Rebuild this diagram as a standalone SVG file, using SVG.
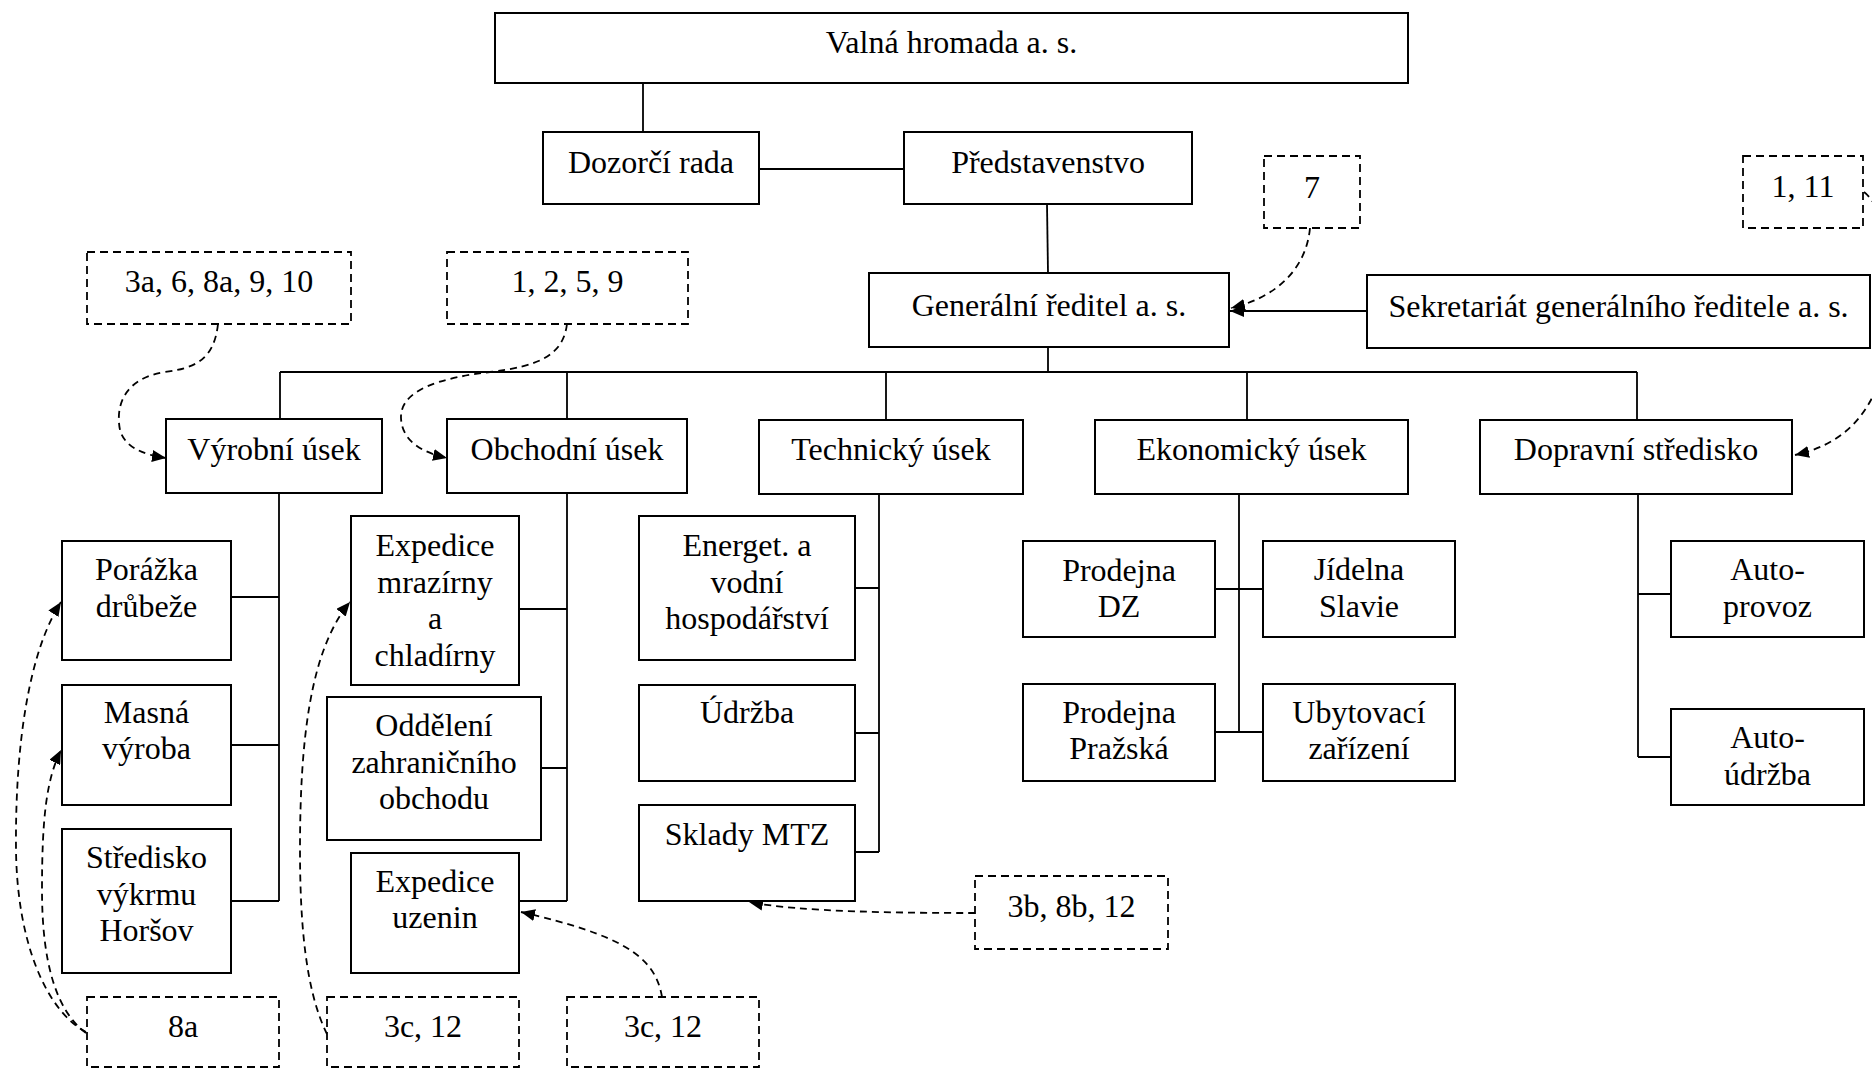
<svg xmlns="http://www.w3.org/2000/svg" width="1872" height="1069" viewBox="0 0 1872 1069">
  <style>
    .box { fill: #ffffff; stroke: #000000; stroke-width: 2; }
    .note { fill: #ffffff; stroke: #000000; stroke-width: 1.8; stroke-dasharray: 8 5; }
    .lbl { font-family: "Liberation Serif", "Times New Roman", serif; font-size: 32px; fill: #000000; text-anchor: middle; }
    .wire { fill: none; stroke: #000000; stroke-width: 1.8; }
    .ref { fill: none; stroke: #000000; stroke-width: 1.8; stroke-dasharray: 7 5; }
  </style>
  <defs>
    <marker id="head" viewBox="0 0 14 12" markerWidth="14" markerHeight="12" refX="14" refY="6" orient="auto" markerUnits="userSpaceOnUse">
      <path d="M0,0 L14,6 L0,12 Z" fill="#000000"/>
    </marker>
  </defs>

  <!-- connectors -->
  <g id="connectors">
    <path class="wire" d="M643,83 V132"/>
    <path class="wire" d="M759,169 H904"/>
    <path class="wire" d="M1047,204 L1048,273"/>
    <path class="wire" d="M1048,347 V372"/>
    <path class="wire" d="M280,372 H1637"/>
    <path class="wire" d="M280,372 V419 M567,372 V419 M886,372 V420 M1247,372 V420 M1637,372 V420"/>
    <!-- Výrobní úsek -->
    <path class="wire" d="M279,493 V901 M231,597 H279 M231,745 H279 M231,901 H279"/>
    <!-- Obchodní úsek -->
    <path class="wire" d="M567,493 V901 M519,609 H567 M541,768 H567 M519,901 H567"/>
    <!-- Technický úsek -->
    <path class="wire" d="M879,494 V852 M855,588 H879 M855,733 H879 M855,852 H879"/>
    <!-- Ekonomický úsek -->
    <path class="wire" d="M1239,494 V732 M1215,589 H1263 M1215,732 H1263"/>
    <!-- Dopravní středisko -->
    <path class="wire" d="M1638,494 V757 M1638,594 H1671 M1638,757 H1671"/>
    <!-- secretariat to director -->
    <path class="wire" d="M1367,311 H1230" marker-end="url(#head)"/>

    <!-- dashed references -->
    <path class="ref" d="M1310,228 C1306,270 1275,298 1231,308" marker-end="url(#head)"/>
    <path class="ref" d="M1864,192 C1895,215 1900,330 1880,380 C1865,420 1840,445 1795,455" marker-end="url(#head)"/>
    <path class="ref" d="M218,324 C214,360 195,368 165,372 C125,378 115,405 120,430 C125,448 145,455 166,458" marker-end="url(#head)"/>
    <path class="ref" d="M567,324 C563,355 540,366 490,372 C440,378 400,390 401,418 C402,440 420,452 447,458" marker-end="url(#head)"/>
    <path class="ref" d="M86,1032 C45,1010 17,940 16,850 C15,740 30,650 61,602" marker-end="url(#head)"/>
    <path class="ref" d="M86,1033 C55,1010 42,960 42,890 C42,820 46,780 61,750" marker-end="url(#head)"/>
    <path class="ref" d="M327,1034 C305,990 300,920 300,850 C300,740 310,650 350,602" marker-end="url(#head)"/>
    <path class="ref" d="M662,997 C655,955 620,935 521,912" marker-end="url(#head)"/>
    <path class="ref" d="M975,913 C900,913 800,912 749,902" marker-end="url(#head)"/>
  </g>

  <!-- top management -->
  <g id="valna"><rect class="box" x="495" y="13" width="913" height="70"/><text class="lbl" x="951.5" y="53">Valná hromada a. s.</text></g>
  <g id="dozorci"><rect class="box" x="543" y="132" width="216" height="72"/><text class="lbl" x="651" y="173">Dozorčí rada</text></g>
  <g id="predstavenstvo"><rect class="box" x="904" y="132" width="288" height="72"/><text class="lbl" x="1048" y="173">Představenstvo</text></g>
  <g id="generalni"><rect class="box" x="869" y="273" width="360" height="74"/><text class="lbl" x="1049" y="316">Generální ředitel a. s.</text></g>
  <g id="sekretariat"><rect class="box" x="1367" y="275" width="503" height="73"/><text class="lbl" x="1618.5" y="317">Sekretariát generálního ředitele a. s.</text></g>

  <!-- reference notes -->
  <g id="note-7"><rect class="note" x="1264" y="156" width="96" height="72"/><text class="lbl" x="1312" y="198">7</text></g>
  <g id="note-1-11"><rect class="note" x="1743" y="156" width="120" height="72"/><text class="lbl" x="1803" y="197">1, 11</text></g>
  <g id="note-3a"><rect class="note" x="87" y="252" width="264" height="72"/><text class="lbl" x="219" y="292">3a, 6, 8a, 9, 10</text></g>
  <g id="note-1-2-5-9"><rect class="note" x="447" y="252" width="241" height="72"/><text class="lbl" x="567.5" y="292">1, 2, 5, 9</text></g>
  <g id="note-8a"><rect class="note" x="87" y="997" width="192" height="70"/><text class="lbl" x="183" y="1037">8a</text></g>
  <g id="note-3c-a"><rect class="note" x="327" y="997" width="192" height="70"/><text class="lbl" x="423" y="1037">3c, 12</text></g>
  <g id="note-3c-b"><rect class="note" x="567" y="997" width="192" height="70"/><text class="lbl" x="663" y="1037">3c, 12</text></g>
  <g id="note-3b"><rect class="note" x="975" y="876" width="193" height="73"/><text class="lbl" x="1071.5" y="917">3b, 8b, 12</text></g>

  <!-- divisions -->
  <g id="vyrobni"><rect class="box" x="166" y="419" width="216" height="74"/><text class="lbl" x="274" y="460">Výrobní úsek</text></g>
  <g id="obchodni"><rect class="box" x="447" y="419" width="240" height="74"/><text class="lbl" x="567" y="460">Obchodní úsek</text></g>
  <g id="technicky"><rect class="box" x="759" y="420" width="264" height="74"/><text class="lbl" x="891" y="460">Technický úsek</text></g>
  <g id="ekonomicky"><rect class="box" x="1095" y="420" width="313" height="74"/><text class="lbl" x="1251.5" y="460">Ekonomický úsek</text></g>
  <g id="dopravni"><rect class="box" x="1480" y="420" width="312" height="74"/><text class="lbl" x="1636" y="460">Dopravní středisko</text></g>

  <!-- production units -->
  <g id="porazka"><rect class="box" x="62" y="541" width="169" height="119"/><text class="lbl" x="146.5" y="580">Porážka</text><text class="lbl" x="146.5" y="617">drůbeže</text></g>
  <g id="masna"><rect class="box" x="62" y="685" width="169" height="120"/><text class="lbl" x="146.5" y="723">Masná</text><text class="lbl" x="146.5" y="759">výroba</text></g>
  <g id="stredisko"><rect class="box" x="62" y="829" width="169" height="144"/><text class="lbl" x="146.5" y="868">Středisko</text><text class="lbl" x="146.5" y="905">výkrmu</text><text class="lbl" x="146.5" y="941">Horšov</text></g>

  <!-- sales units -->
  <g id="exp-mrazirny"><rect class="box" x="351" y="516" width="168" height="169"/><text class="lbl" x="435" y="556">Expedice</text><text class="lbl" x="435" y="592.5">mrazírny</text><text class="lbl" x="435" y="629">a</text><text class="lbl" x="435" y="665.5">chladírny</text></g>
  <g id="oddeleni"><rect class="box" x="327" y="697" width="214" height="143"/><text class="lbl" x="434" y="736">Oddělení</text><text class="lbl" x="434" y="773">zahraničního</text><text class="lbl" x="434" y="809">obchodu</text></g>
  <g id="exp-uzenin"><rect class="box" x="351" y="853" width="168" height="120"/><text class="lbl" x="435" y="892">Expedice</text><text class="lbl" x="435" y="928">uzenin</text></g>

  <!-- technical units -->
  <g id="energet"><rect class="box" x="639" y="516" width="216" height="144"/><text class="lbl" x="747" y="556">Energet. a</text><text class="lbl" x="747" y="593">vodní</text><text class="lbl" x="747" y="629">hospodářství</text></g>
  <g id="udrzba"><rect class="box" x="639" y="685" width="216" height="96"/><text class="lbl" x="747" y="723">Údržba</text></g>
  <g id="sklady"><rect class="box" x="639" y="805" width="216" height="96"/><text class="lbl" x="747" y="845">Sklady MTZ</text></g>

  <!-- economic units -->
  <g id="prodejna-dz"><rect class="box" x="1023" y="541" width="192" height="96"/><text class="lbl" x="1119" y="581">Prodejna</text><text class="lbl" x="1119" y="617">DZ</text></g>
  <g id="jidelna"><rect class="box" x="1263" y="541" width="192" height="96"/><text class="lbl" x="1359" y="580">Jídelna</text><text class="lbl" x="1359" y="617">Slavie</text></g>
  <g id="prodejna-prazska"><rect class="box" x="1023" y="684" width="192" height="97"/><text class="lbl" x="1119" y="723">Prodejna</text><text class="lbl" x="1119" y="759">Pražská</text></g>
  <g id="ubytovaci"><rect class="box" x="1263" y="684" width="192" height="97"/><text class="lbl" x="1359" y="723">Ubytovací</text><text class="lbl" x="1359" y="759">zařízení</text></g>

  <!-- transport units -->
  <g id="autoprovoz"><rect class="box" x="1671" y="541" width="193" height="96"/><text class="lbl" x="1767.5" y="580">Auto-</text><text class="lbl" x="1767.5" y="617">provoz</text></g>
  <g id="autoudrzba"><rect class="box" x="1671" y="709" width="193" height="96"/><text class="lbl" x="1767.5" y="748">Auto-</text><text class="lbl" x="1767.5" y="785">údržba</text></g>
</svg>
